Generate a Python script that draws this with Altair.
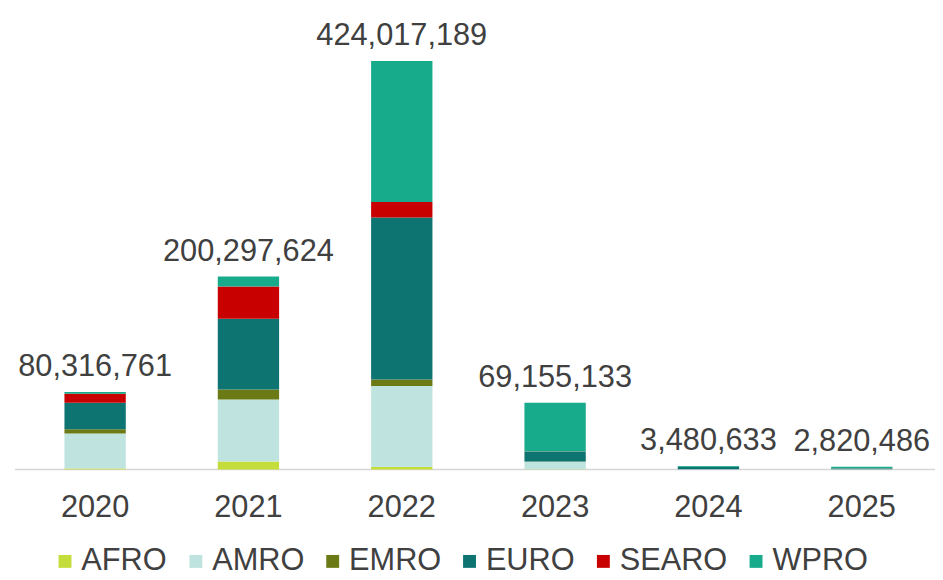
import altair as alt
import pandas as pd

years = ["2020", "2021", "2022", "2023", "2024", "2025"]
regions = ["AFRO", "AMRO", "EMRO", "EURO", "SEARO", "WPRO"]
colors = ["#c5dd3a", "#bfe3de", "#6b7a14", "#0d7472", "#c80000", "#17ab8c"]

# values in millions
afro = [1.0, 8.2, 2.5, 0.1, 0.02, 0.02]
amro = [36.3, 64.4, 84.0, 8.0, 0.2, 0.2]
emro = [4.4, 10.3, 6.9, 0.05, 0.01, 0.01]
euro = [27.5, 73.5, 168.2, 10.3, 2.5, 0.6]
searo = [9.3, 33.6, 16.1, 0.1, 0.05, 0.04]
wpro = [1.8, 10.3, 146.3, 50.6, 0.7, 1.95]
totals = [80316761, 200297624, 424017189, 69155133, 3480633, 2820486]

series = {"AFRO": afro, "AMRO": amro, "EMRO": emro, "EURO": euro, "SEARO": searo, "WPRO": wpro}
rows = []
for r_i, r in enumerate(regions):
    for y_i, y in enumerate(years):
        rows.append({"year": y, "region": r, "order": r_i, "value": series[r][y_i] * 1e6})
df = pd.DataFrame(rows)
tot = pd.DataFrame({"year": years, "total": totals})

W, H = 897, 459
FONT = "Liberation Sans"
TXT = "#404040"

xenc = alt.X("year:N", sort=years, title=None,
             scale=alt.Scale(paddingInner=0.6, paddingOuter=0.2),
             axis=alt.Axis(domain=False, ticks=False, tickSize=0, labelPadding=23,
                           labelFontSize=31, labelColor=TXT, labelFont=FONT,
                           labelAngle=0, grid=False))
yscale = alt.Scale(domain=[0, 472.4e6])

base_rule = alt.Chart(pd.DataFrame({"a": [0]})).mark_rule(
    color="#d6d6d6", strokeWidth=1.5
).encode(x=alt.value(-19), x2=alt.value(W + 20), y=alt.value(H))

bars = alt.Chart(df).mark_bar().encode(
    x=xenc,
    y=alt.Y("value:Q", stack="zero", scale=yscale, axis=None),
    color=alt.Color("region:N", sort=regions,
                    scale=alt.Scale(domain=regions, range=colors),
                    legend=alt.Legend(title=None, orient="none", direction="horizontal",
                                      legendX=16, legendY=536,
                                      symbolType="square", symbolSize=169,
                                      symbolStrokeWidth=0, symbolOpacity=1,
                                      labelFontSize=31, labelFont=FONT, labelColor=TXT,
                                      labelOffset=1, columnPadding=13, padding=0,
                                      labelLimit=300)),
    order=alt.Order("order:Q", sort="ascending"),
)

labels = alt.Chart(tot).mark_text(
    fontSize=31, font=FONT, color=TXT, baseline="alphabetic", dy=-16
).encode(
    x=alt.X("year:N", sort=years),
    y=alt.Y("total:Q", scale=yscale),
    text=alt.Text("total:Q", format=","),
)

chart = alt.layer(base_rule, bars, labels).properties(
    width=W, height=H,
    autosize=alt.AutoSizeParams(type="none"),
    padding={"left": 26, "top": 4, "right": 12, "bottom": 101},
).configure_view(stroke=None)

chart.save("out.html", embed_options={"renderer": "svg", "actions": False})
